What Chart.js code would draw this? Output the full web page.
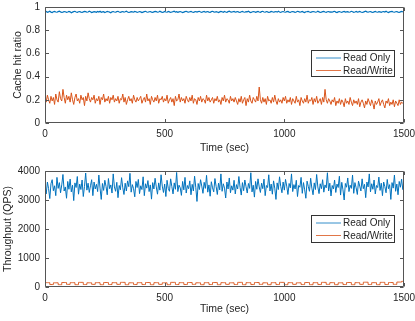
<!DOCTYPE html>
<html><head><meta charset="utf-8">
<script src="https://cdn.jsdelivr.net/npm/chart.js@4/dist/chart.umd.min.js"></script>
<style>
html,body{margin:0;padding:0;background:#fff;}
#wrap{position:relative;width:415px;height:321px;overflow:hidden;}
canvas{position:absolute;left:0;}
#c1{top:0;} #c2{top:160px;}
</style></head><body>
<div id="wrap"><canvas id="c1" width="415" height="160"></canvas><canvas id="c2" width="415" height="161"></canvas></div>
<script>
// ---- data (sampled every 5 sec, 0..1500) ----
const SAMPLE_STEP_SEC = 5;
const seriesNames = ['Read Only', 'Read/Write'];
const xTicks = [0, 500, 1000, 1500];
const hitTicks = [0, 0.2, 0.4, 0.6, 0.8, 1];
const qpsTicks = [0, 1000, 2000, 3000, 4000];

const roHit = [
.957,.961,.954,.958,.963,.956,.952,.959,.962,.957,.955,.960,.964,.958,.953,.956,.961,.959,.954,.957,
.962,.958,.951,.956,.960,.963,.957,.954,.959,.961,.956,.953,.958,.962,.960,.955,.957,.964,.959,.952,
.956,.960,.958,.954,.961,.957,.963,.955,.958,.960,.953,.957,.962,.959,.956,.951,.958,.961,.957,.955,
.960,.963,.957,.954,.958,.961,.956,.959,.964,.957,.953,.956,.960,.958,.955,.962,.959,.954,.957,.961,
.958,.952,.956,.960,.963,.957,.955,.959,.961,.956,.954,.958,.962,.960,.955,.957,.963,.958,.953,.956,
.961,.957,.955,.962,.958,.953,.957,.960,.964,.956,.959,.954,.958,.961,.957,.952,.956,.960,.963,.958,
.955,.959,.962,.957,.953,.958,.961,.956,.960,.963,.957,.954,.959,.962,.955,.958,.961,.956,.953,.960,
.963,.958,.955,.960,.957,.952,.958,.962,.959,.955,.961,.957,.954,.960,.964,.958,.956,.959,.962,.955,
.958,.961,.956,.953,.959,.962,.957,.955,.960,.958,.963,.956,.952,.957,.961,.959,.954,.958,.962,.957,
.954,.960,.963,.957,.955,.961,.958,.953,.956,.962,.959,.955,.958,.961,.956,.964,.957,.953,.959,.961,
.957,.955,.960,.962,.956,.953,.959,.961,.958,.954,.957,.963,.960,.955,.958,.962,.956,.952,.959,.960,
.962,.957,.954,.958,.961,.959,.955,.957,.963,.958,.953,.956,.960,.962,.957,.954,.959,.961,.956,.958,
.955,.960,.963,.956,.952,.958,.961,.957,.954,.959,.962,.956,.958,.960,.955,.957,.963,.959,.954,.957,
.961,.956,.958,.962,.957,.953,.956,.960,.964,.958,.955,.959,.961,.956,.953,.958,.962,.957,.955,.960,
.958,.954,.959,.961,.956,.963,.957,.952,.958,.960,.962,.957,.955,.959,.961,.956,.953,.958,.962,.959,
.957];

const rwHit = [
.21,.18,.24,.20,.17,.23,.19,.22,.16,.25,.20,.18,.27,.21,.19,.29,.22,.17,.24,.20,
.23,.18,.26,.20,.16,.22,.25,.19,.21,.17,.24,.20,.22,.15,.23,.19,.26,.21,.18,.22,
.20,.24,.17,.21,.19,.23,.16,.22,.20,.25,.18,.21,.19,.23,.17,.22,.20,.24,.18,.21,
.19,.23,.17,.21,.20,.25,.18,.22,.16,.20,.23,.19,.21,.17,.24,.20,.18,.22,.19,.21,
.23,.17,.20,.22,.18,.25,.19,.21,.16,.23,.20,.18,.22,.19,.24,.17,.21,.20,.23,.18,
.21,.19,.24,.17,.20,.22,.18,.21,.15,.23,.19,.20,.25,.18,.22,.19,.21,.17,.23,.20,
.18,.22,.19,.24,.17,.21,.20,.16,.22,.19,.23,.18,.21,.20,.17,.24,.19,.22,.18,.20,
.22,.17,.21,.19,.23,.18,.20,.16,.22,.19,.24,.18,.21,.20,.17,.23,.19,.21,.18,.22,
.19,.16,.21,.18,.23,.17,.20,.22,.15,.21,.18,.24,.19,.17,.22,.20,.18,.23,.19,.31,
.20,.17,.22,.18,.21,.16,.23,.19,.20,.17,.22,.18,.24,.19,.16,.21,.18,.20,.17,.22,
.19,.23,.17,.20,.18,.22,.16,.21,.19,.17,.23,.18,.20,.15,.22,.19,.17,.21,.18,.24,
.17,.20,.19,.22,.16,.21,.18,.23,.17,.19,.21,.16,.22,.18,.29,.20,.17,.21,.19,.16,
.20,.18,.22,.15,.19,.17,.21,.16,.20,.18,.14,.21,.17,.19,.16,.22,.18,.15,.20,.17,
.19,.16,.21,.14,.18,.20,.17,.13,.19,.16,.21,.18,.15,.20,.17,.12,.19,.16,.18,.21,
.15,.18,.20,.16,.13,.19,.17,.21,.15,.18,.16,.20,.14,.19,.17,.15,.20,.16,.18,.17,
.16];

const roQps = [
3480,3210,3620,3390,3050,3560,3700,3320,3490,3150,3780,3400,3600,3250,3520,3880,3310,3450,3060,3640,
3370,3720,3280,3510,2980,3590,3430,3810,3200,3550,3360,3690,3120,3470,3930,3340,3580,3260,3490,3700,
3150,3620,3380,3540,3290,3860,3410,3020,3570,3330,3680,3470,3180,3740,3390,3520,3240,3900,3450,3300,
3610,3080,3500,3350,3770,3420,3190,3580,3310,3660,3460,3920,3270,3530,3390,3110,3640,3430,3710,3220,
3490,3360,3800,3150,3560,3410,3670,3290,3520,3030,3600,3380,3750,3450,3200,3590,3340,3870,3480,3260,
3550,3120,3680,3400,3300,3730,3460,3210,3590,3370,3950,3290,3510,3420,3160,3640,3350,3780,3240,3500,
3390,3660,3180,3540,3310,3820,3440,2950,3570,3360,3700,3480,3230,3610,3400,3850,3270,3520,3130,3630,
3420,3280,3740,3470,3190,3580,3350,3900,3300,3560,3410,3070,3620,3380,3760,3250,3490,3340,3680,3210,
3530,3380,3810,3440,3170,3600,3320,3690,3460,3240,3570,3400,3940,3280,3510,3100,3640,3370,3730,3450,
3260,3580,3390,3720,3150,3500,3430,3870,3310,3550,3200,3660,3410,3020,3590,3360,3800,3470,3250,3620,
3340,3710,3480,3190,3570,3420,3900,3290,3530,3380,3680,3120,3500,3440,3780,3230,3600,3350,3060,3650,
3470,3300,3750,3410,3180,3590,3360,3880,3450,3220,3560,3390,3700,3270,3520,3420,3940,3310,3580,3140,
3500,3380,3690,3260,3550,3430,3820,3170,3610,3350,3000,3570,3440,3760,3290,3510,3400,3860,3230,3600,
3420,3190,3650,3480,3310,3730,3390,3540,3080,3620,3450,3900,3280,3560,3370,3690,3210,3500,3430,3790,
3330,3580,3150,3620,3460,3250,3710,3390,3530,3020,3600,3410,3860,3300,3550,3180,3640,3440,3720,3360,
3500];

const rwQps = [
150,150,150,150,85,85,85,  145,145,145,145,80,80,80,  155,155,155,155,90,90,90,
150,150,150,150,80,80,80,  160,160,160,160,85,85,85,  145,145,145,145,90,90,90,
150,150,150,150,80,80,80,  155,155,155,155,85,85,85,  150,150,150,150,90,90,90,
160,160,160,160,80,80,80,  145,145,145,145,85,85,85,  150,150,150,150,85,85,85,
155,155,155,155,80,80,80,  150,150,150,150,90,90,90,  145,145,145,145,80,80,80,
160,160,160,160,85,85,85,  150,150,150,150,85,85,85,  155,155,155,155,90,90,90,
145,145,145,145,80,80,80,  150,150,150,150,85,85,85,  155,155,155,155,80,80,80,
150,150,150,150,90,90,90,  145,145,145,145,85,85,85,  160,160,160,160,80,80,80,
150,150,150,150,85,85,85,  155,155,155,155,90,90,90,  145,145,145,145,80,80,80,
150,150,150,150,85,85,85,  160,160,160,160,80,80,80,  150,150,150,150,90,90,90,
145,145,145,145,85,85,85,  155,155,155,155,80,80,80,  150,150,150,150,85,85,85,
160,160,160,160,90,90,90,  150,150,150,150,80,80,80,  145,145,145,145,85,85,85,
155,155,155,155,80,80,80,  150,150,150,150,90,90,90,  165,165,165,165,85,85,85,
150,150,150,150,80,80,80,  160,160,160,160,85,85,85,  155,155,155,155,90,90,90,
170,170,170,170,195,195,200];

const seriesColors = ['#0072BD', '#D95319'];
const AXIS_COLOR = '#262626';
const BOX_COLOR = '#555555';
const FONT = '"Liberation Sans", Arial, Helvetica, sans-serif';

function toPoints(arr){ return arr.map((v,i)=>({x:i*SAMPLE_STEP_SEC, y:v})); }

const boxPlugin = {
  id:'matlabBox',
  afterDraw(chart){
    const {ctx, chartArea:a, scales} = chart;
    const x = scales.x, y = scales.y;
    const o = chart.options.plugins.matlabBox;
    ctx.save();
    ctx.strokeStyle = BOX_COLOR; ctx.lineWidth = 1;
    const L = Math.round(a.left)+0.5, R = Math.round(a.right)-0.5, T = Math.round(a.top)+0.5, B = Math.round(a.bottom)-0.5;
    ctx.beginPath(); ctx.rect(L, T, R-L, B-T); ctx.stroke();
    ctx.beginPath();
    o.xTicks.forEach(v=>{ const px = Math.round(x.getPixelForValue(v))+0.5;
      ctx.moveTo(px,B); ctx.lineTo(px,B-3.5); ctx.moveTo(px,T); ctx.lineTo(px,T+3.5); });
    o.yTicks.forEach(v=>{ const py = Math.round(y.getPixelForValue(v))+0.5;
      ctx.moveTo(L,py); ctx.lineTo(L+3.5,py); ctx.moveTo(R,py); ctx.lineTo(R-3.5,py); });
    ctx.stroke();
    // legend
    const lg = o.legend;
    ctx.fillStyle = '#fff';
    ctx.fillRect(lg.x, lg.y, lg.w, lg.h);
    ctx.strokeStyle = '#333'; ctx.lineWidth = 1;
    ctx.strokeRect(lg.x+0.5, lg.y+0.5, lg.w-1, lg.h-1);
    ctx.font = '10px ' + FONT; ctx.textBaseline = 'middle'; ctx.textAlign = 'left';
    chart.data.datasets.forEach((ds,i)=>{
      const yy = lg.y + 8 + i*12.5;
      ctx.strokeStyle = ds.borderColor; ctx.lineWidth = 0.8;
      ctx.beginPath(); ctx.moveTo(lg.x+5, yy); ctx.lineTo(lg.x+30, yy); ctx.stroke();
      ctx.fillStyle = AXIS_COLOR; ctx.fillText(ds.label, lg.x+32, yy+0.5);
    });
    ctx.restore();
  }
};

function makeChart(id, series, yTicks, yTitle, opts){
  return new Chart(document.getElementById(id), {
    type:'line',
    data:{ datasets: series.map((s,i)=>({
      label: seriesNames[i], data: toPoints(s), borderColor: seriesColors[i],
      borderWidth: opts.lw[i], pointRadius: 0, tension: 0, fill:false, stepped: opts.stepped[i]
    })) },
    options:{
      responsive:false, animation:false, devicePixelRatio:1,
      layout:{ padding:{ left:0, right:11, top:opts.top, bottom:0 } },
      plugins:{ legend:{display:false}, tooltip:{enabled:false},
        matlabBox:{ xTicks, yTicks, legend: opts.legend } },
      scales:{
        x:{ type:'linear', min:0, max:1500,
          grid:{display:false, drawTicks:false}, border:{display:false},
          afterBuildTicks(s){ s.ticks = xTicks.map(v=>({value:v})); },
          ticks:{ color:AXIS_COLOR, font:{size:10, family:FONT}, padding:5, maxRotation:0, callback:v=>String(v) },
          title:{ display:true, text:'Time (sec)', color:AXIS_COLOR, font:{size:10.5, family:FONT}, padding:{top:0,bottom:opts.xTitlePad} },
          afterFit(s){ s.height = opts.xH; s.paddingLeft = 0; s.paddingRight = 0; }
        },
        y:{ type:'linear', min:yTicks[0], max:yTicks[yTicks.length-1],
          grid:{display:false, drawTicks:false}, border:{display:false},
          afterBuildTicks(s){ s.ticks = yTicks.map(v=>({value:v})); },
          ticks:{ color:AXIS_COLOR, font:{size:10, family:FONT}, padding:5, callback:v=>String(v) },
          title:{ display:true, text:yTitle, color:AXIS_COLOR, font:{size:10.5, family:FONT}, padding:{top:opts.yTitlePad,bottom:0} },
          afterFit(s){ s.width = 45; s.paddingTop = 0; s.paddingBottom = 0; }
        }
      }
    },
    plugins:[boxPlugin]
  });
}

makeChart('c1', [roHit, rwHit], hitTicks, 'Cache hit ratio',
  {top:7, xH:37, xTitlePad:5.7, yTitlePad:11.7, stepped:[false,false], lw:[1.2,1], legend:{x:311,y:50,w:84,h:27}});
makeChart('c2', [roQps, rwQps], qpsTicks, 'Throughput (QPS)',
  {top:11, xH:34, xTitlePad:5.7, yTitlePad:1.7, stepped:[false,true], lw:[1,0.9], legend:{x:311,y:55,w:84,h:28}});
</script></body></html>
